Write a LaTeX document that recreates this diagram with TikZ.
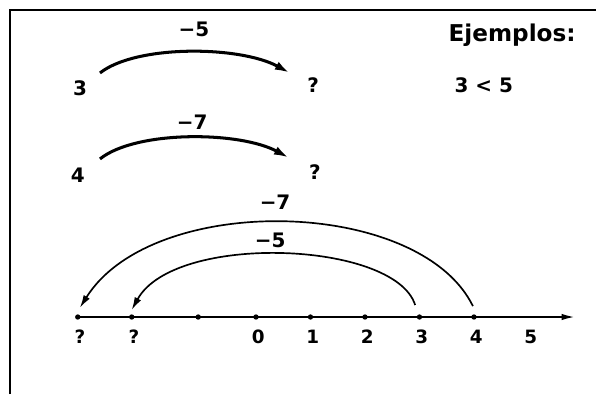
\documentclass[tikz,border=0pt]{standalone}
\usepackage{fontspec}
\setmainfont{DejaVu Sans}
\usetikzlibrary{arrows.meta}

\begin{document}
\begin{tikzpicture}[scale=1.2,
		num/.style={font=\bfseries\fontsize{12.5}{14}\selectfont},
		ticklabel/.style={font=\bfseries\fontsize{11.5}{13}\selectfont},
		jump/.style={line width=1.9pt, -{Latex[length=9.5pt,width=5.5pt]}},
		hop/.style={line width=1.05pt, -{Latex[length=8pt,width=4.5pt]}}]
			\useasboundingbox (-4.697,-1.413) rectangle (6.239,5.817);

			% frame (only top and left edge visible)
			\draw[line width=1.5pt] (-4.514,-1.413) |- (6.239,5.633);

			% title and example
			\node[font=\bfseries\fontsize{14.5}{17}\selectfont] (ejem) at (4.70,5.17) {Ejemplos:};
			\node[num] (ineq) at (4.18,4.26) {3 < 5};

			% first jump
			\node[num] (three) at (-3.23,4.20) {3};
			\node[num] (qa) at (1.05,4.26) {?};
			\node[num] (jmpa) at (-1.14,5.28) {−5};
			\coordinate (sa) at (-2.862,4.477);
			\coordinate (ea) at (0.624,4.477);
			\draw[jump] (sa) .. controls (-2.2,5.0) and (-0.3,4.98) .. (ea);

			% second jump
			\node[num] (four) at (-3.27,2.61) {4};
			\node[num] (qb) at (1.08,2.66) {?};
			\node[num] (jmpb) at (-1.17,3.58) {−7};
			\coordinate (sb) at (-2.862,2.90);
			\coordinate (eb) at (0.606,2.92);
			\draw[jump] (sb) .. controls (-2.2,3.43) and (-0.3,3.41) .. (eb);

			% number line
			\coordinate (axl) at (-3.27,0);
			\coordinate (axr) at (5.87,0);
			\draw[line width=1.4pt, -{Latex[length=9pt,width=4pt]}] (axl) -- (axr);
			\foreach \x [count=\i] in {-3.27,-2.28,-1.06,0,1,2,3,4}
				\fill (\x,0) coordinate (t\i) circle (1.4pt);
			\foreach \x/\t [count=\i] in {-3.27/?,-2.28/?,0/0,1/1,2/2,3/3,4/4,5/5}
				\node[ticklabel] (lab\i) at (\x+0.04,-0.367) {\t};

			% jumps on the line
			\node[num] (jmpc) at (0.35,2.11) {−7};
			\node[num] (jmpd) at (0.26,1.41) {−5};
			\coordinate (s7) at (3.98,0.2);
			\coordinate (e7) at (-3.23,0.17);
			\draw[hop] (s7) .. controls (3.0,2.2) and (-1.9,2.3) .. (e7);
			\coordinate (s5) at (2.92,0.22);
			\coordinate (e5) at (-2.28,0.13);
			\draw[hop] (s5) .. controls (2.55,1.4) and (-1.5,1.55) .. (e5);
		\end{tikzpicture}
\end{document}
